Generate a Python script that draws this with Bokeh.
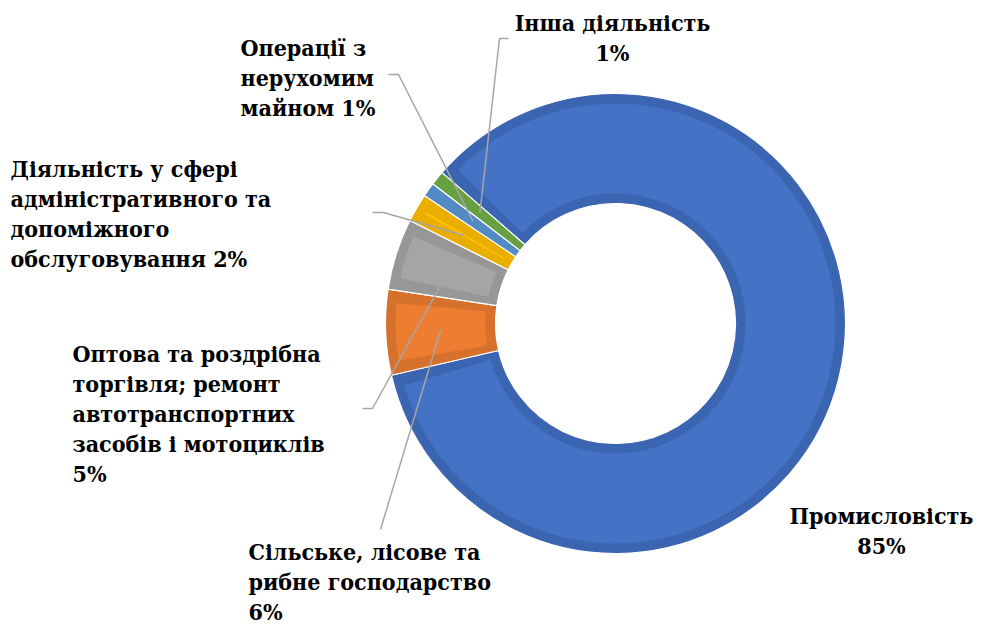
import numpy as np
from bokeh.plotting import figure
from bokeh.models import ColumnDataSource, Range1d
from bokeh.core.properties import value
from bokeh.embed import file_html
from bokeh.resources import INLINE

# ---- data ----
categories = [
    "Промисловість",
    "Сільське, лісове та\nрибне господарство",
    "Оптова та роздрібна\nторгівля; ремонт\nавтотранспортних\nзасобів і мотоциклів",
    "Діяльність у сфері\nадміністративного та\nдопоміжного\nобслуговування",
    "Операції з\nнерухомим\nмайном",
    "Інша діяльність",
]
shares = [85, 6, 5, 2, 1, 1]
pct_sep = ["\n", "\n", "\n", " ", " ", "\n"]

# ---- styles ----
face = ["#4472C4", "#ED7D31", "#A5A5A5", "#FFC000", "#5B9BD5", "#70AD47"]
edge = ["#3B65B0", "#D6712C", "#979797", "#E9AE00", "#528AC3", "#66A040"]

W, H = 973, 626
PAGE_H = 634
def py(y):  # page pixel y -> data y
    return PAGE_H - y

cx, cy = 615, py(323)
r_in, r_out = 120, 230
first_angle = np.deg2rad(139.0)

# label anchors (page px): x, first line y, align
label_pos = [
    (881, 515, "center"),
    (248, 551, "left"),
    (72, 353, "left"),
    (10, 168, "left"),
    (240, 47, "left"),
    (612, 22, "center"),
]
leader_start = [
    None,
    [(380, 529)],
    [(362, 408), (372, 408)],
    [(372, 212), (383, 212)],
    [(388, 74), (398, 74)],
    [(508, 38), (499, 38)],
]
line_h = 30

p = figure(width=W, height=H, x_range=Range1d(0, W), y_range=Range1d(PAGE_H - H, PAGE_H),
           x_axis_type=None, y_axis_type=None, toolbar_location=None, output_backend="svg",
           min_border=0, outline_line_color=None, background_fill_color="white")
p.grid.visible = False

vals = np.array(shares, dtype=float)
frac = vals / vals.sum()
cum = np.concatenate([[0], np.cumsum(frac)[:-1]])
start = first_angle - cum * 2 * np.pi
end = start - frac * 2 * np.pi
mid = (start + end) / 2

src = ColumnDataSource(dict(start=start, end=end, edge=edge, face=face))
p.annular_wedge(x=cx, y=cy, inner_radius=r_in, outer_radius=r_out, start_angle="start", end_angle="end",
                direction="clock", fill_color="edge", line_color="white", line_width=1.2, source=src)

# bevel inset
ins = 10
ins_a = ins / ((r_in + r_out) / 2)
ok = (start - end) > 2 * ins_a
isrc = ColumnDataSource(dict(start=(start - ins_a)[ok], end=(end + ins_a)[ok], face=np.array(face)[ok]))
p.annular_wedge(x=cx, y=cy, inner_radius=r_in + ins, outer_radius=r_out - ins, start_angle="start",
                end_angle="end", direction="clock", fill_color="face", line_color=None, source=isrc)

# leader lines
xs, ys = [], []
rm = (r_in + r_out) / 2
for i, st in enumerate(leader_start):
    if st is None:
        continue
    lx = [a for a, b in st] + [cx + rm * np.cos(mid[i])]
    ly = [py(b) for a, b in st] + [cy + rm * np.sin(mid[i])]
    xs.append(lx)
    ys.append(ly)
p.multi_line(xs=xs, ys=ys, line_color="#A6A6A6", line_width=1.5)

# labels
tx, ty, tt, ta = [], [], [], []
for i, cat in enumerate(categories):
    lab = cat + pct_sep[i] + f"{shares[i]}%"
    x0, y0, al = label_pos[i]
    for j, ln in enumerate(lab.split("\n")):
        tx.append(x0)
        ty.append(py(y0 + j * line_h))
        tt.append(ln)
        ta.append(al)
tsrc = ColumnDataSource(dict(x=tx, y=ty, t=tt, a=ta))
p.text(x="x", y="y", text="t", text_align="a", text_baseline="middle",
       text_font=value("DejaVu Serif Condensed, DejaVu Serif"),
       text_font_style="bold", text_font_size="23px", text_color="black", source=tsrc)

open("out.html", "w").write(file_html(p, INLINE))
